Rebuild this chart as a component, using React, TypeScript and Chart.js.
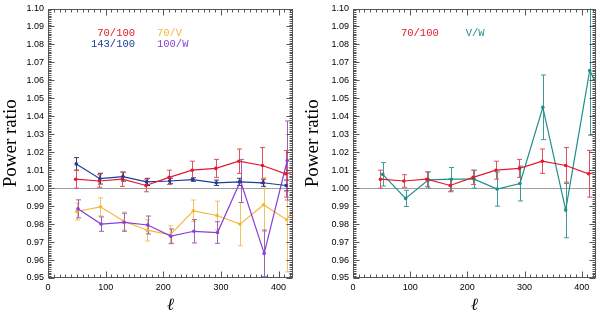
import React, { useEffect, useRef } from "react";
import { Chart, registerables } from "chart.js";
Chart.register(...registerables);

// ---- data ----
const ell70_100 = [48, 89, 129, 170, 210, 250, 291, 331, 372, 412, 452];
const ratio70_100 = [1.005, 1.004, 1.005, 1.0015, 1.006, 1.010, 1.011, 1.015, 1.0126, 1.008, 1.011];
const err70_100 = [0.005, 0.0035, 0.004, 0.0035, 0.004, 0.005, 0.005, 0.0068, 0.010, 0.013, 0.01];

const ell143_100 = [49, 90, 130, 171, 211, 251, 292, 332, 373, 413];
const ratio143_100 = [1.0135, 1.0053, 1.0064, 1.0035, 1.004, 1.0048, 1.003, 1.0035, 1.003, 1.0015];
const err143_100 = [0.0035, 0.003, 0.0025, 0.002, 0.0015, 0.001, 0.0015, 0.002, 0.002, 0.003];

const ell70_V = [50, 91, 131, 172, 212, 252, 293, 333, 374, 414, 454];
const ratio70_V = [0.987, 0.9896, 0.9817, 0.9766, 0.974, 0.9874, 0.9848, 0.980, 0.9908, 0.9824, 1.002];
const err70_V = [0.0047, 0.005, 0.005, 0.006, 0.005, 0.006, 0.008, 0.012, 0.015, 0.029, 0.03];

const ell100_W = [52, 92, 132, 173, 213, 253, 294, 334, 375, 415];
const ratio100_W = [0.9885, 0.980, 0.981, 0.9795, 0.9733, 0.976, 0.9753, 1.004, 0.9637, 1.0154];
const err100_W = [0.005, 0.004, 0.005, 0.005, 0.004, 0.0065, 0.006, 0.012, 0.013, 0.022];

const ellV_W = [52, 92, 132, 172, 212, 252, 292, 332, 372, 414, 454];
const ratioV_W = [1.0077, 0.9943, 1.0046, 1.005, 1.005, 0.9995, 1.0026, 1.045, 0.9879, 1.0655, 1.04];
const errV_W = [0.0065, 0.0045, 0.0045, 0.0065, 0.005, 0.0095, 0.0097, 0.018, 0.0155, 0.036, 0.03];

const yTickValues = [0.95, 0.96, 0.97, 0.98, 0.99, 1.0, 1.01, 1.02, 1.03, 1.04, 1.05, 1.06, 1.07, 1.08, 1.09, 1.1];
const xTickValues = [0, 100, 200, 300, 400];
const X_MIN = 0, X_MAX = 425, Y_MIN = 0.95, Y_MAX = 1.1;

const RED = "#e31a2a", RED_ERR = "#e0505e";
const BLUE = "#1d3c9c", BLUE_ERR = "#3a3d6a";
const YEL = "#f5b73a", YEL_ERR = "#f0c45e";
const PUR = "#8a3fd6", PUR_ERR = "#9d62b0";
const TEAL = "#1f8f8c", TEAL_ERR = "#3f9a98";

type Series = { label: string; ell: number[]; val: number[]; err: number[]; color: string; errColor: string };
type Legend = { text: string; color: string; x: number; y: number; align: CanvasTextAlign };

const leftSeries: Series[] = [
  { label: "70/100", ell: ell70_100, val: ratio70_100, err: err70_100, color: RED, errColor: RED_ERR },
  { label: "143/100", ell: ell143_100, val: ratio143_100, err: err143_100, color: BLUE, errColor: BLUE_ERR },
  { label: "100/W", ell: ell100_W, val: ratio100_W, err: err100_W, color: PUR, errColor: PUR_ERR },
  { label: "70/V", ell: ell70_V, val: ratio70_V, err: err70_V, color: YEL, errColor: YEL_ERR },
];
const rightSeries: Series[] = [
  { label: "70/100", ell: ell70_100, val: ratio70_100, err: err70_100, color: RED, errColor: RED_ERR },
  { label: "V/W", ell: ellV_W, val: ratioV_W, err: errV_W, color: TEAL, errColor: TEAL_ERR },
];
const leftLegend: Legend[] = [
  { text: "70/100", color: RED, x: 151, y: 1.0862, align: "right" },
  { text: "70/V", color: YEL, x: 189, y: 1.0862, align: "left" },
  { text: "143/100", color: BLUE, x: 151, y: 1.0802, align: "right" },
  { text: "100/W", color: PUR, x: 189, y: 1.0802, align: "left" },
];
const rightLegend: Legend[] = [
  { text: "70/100", color: RED, x: 150, y: 1.0862, align: "right" },
  { text: "V/W", color: TEAL, x: 197, y: 1.0862, align: "left" },
];

function makeDecor(series: Series[], legend: Legend[], titleX: number) {
  return {
    id: "decor",
    beforeDatasetsDraw(chart: any) {
      const { ctx, chartArea: a, scales } = chart;
      const x = scales.x, y = scales.y;
      ctx.save();
      ctx.beginPath();
      ctx.rect(a.left, a.top, a.right - a.left, a.bottom - a.top);
      ctx.clip();
      const py = Math.round(y.getPixelForValue(1.0)) + 0.5;
      ctx.strokeStyle = "#a0a0a0";
      ctx.lineWidth = 1;
      ctx.beginPath();
      ctx.moveTo(a.left, py);
      ctx.lineTo(a.right, py);
      ctx.stroke();
      for (let si = series.length - 1; si >= 0; si--) {
        const s = series[si];
        ctx.strokeStyle = s.errColor;
        ctx.lineWidth = 1;
        s.ell.forEach((l, i) => {
          const px = Math.round(x.getPixelForValue(l)) + 0.5;
          const y1 = y.getPixelForValue(s.val[i] + s.err[i]);
          const y2 = y.getPixelForValue(s.val[i] - s.err[i]);
          ctx.beginPath();
          ctx.moveTo(px, y1);
          ctx.lineTo(px, y2);
          ctx.moveTo(px - 2.5, y1);
          ctx.lineTo(px + 2.5, y1);
          ctx.moveTo(px - 2.5, y2);
          ctx.lineTo(px + 2.5, y2);
          ctx.stroke();
        });
      }
      ctx.restore();
    },
    afterDraw(chart: any) {
      const { ctx, chartArea: a, scales } = chart;
      const x = scales.x, y = scales.y;
      ctx.save();
      const L = Math.round(a.left) + 0.5, R = Math.round(a.right) - 0.5;
      const T = Math.round(a.top) + 0.5, B = Math.round(a.bottom) - 0.5;
      ctx.strokeStyle = "#555";
      ctx.lineWidth = 1;
      ctx.strokeRect(L, T, R - L, B - T);
      ctx.beginPath();
      for (let v = X_MIN; v <= X_MAX; v += 10) {
        const px = Math.round(x.getPixelForValue(v)) + 0.5;
        const len = v % 100 === 0 ? 6 : 3;
        ctx.moveTo(px, B); ctx.lineTo(px, B - len);
        ctx.moveTo(px, T); ctx.lineTo(px, T + len);
      }
      for (let k = 950; k <= 1100; k++) {
        const py = Math.round(y.getPixelForValue(k / 1000)) + 0.5;
        const len = k % 10 === 0 ? 6 : 3;
        ctx.moveTo(L, py); ctx.lineTo(L + len, py);
        ctx.moveTo(R, py); ctx.lineTo(R - len, py);
      }
      ctx.stroke();
      // legend texts
      ctx.font = "10.5px 'Liberation Mono', 'DejaVu Sans Mono', monospace";
      ctx.textBaseline = "middle";
      legend.forEach((g) => {
        ctx.fillStyle = g.color;
        ctx.textAlign = g.align;
        ctx.fillText(g.text, x.getPixelForValue(g.x), y.getPixelForValue(g.y));
      });
      // y title
      ctx.fillStyle = "#000";
      ctx.font = "19px 'Liberation Serif', 'DejaVu Serif', serif";
      ctx.textAlign = "center";
      ctx.textBaseline = "alphabetic";
      ctx.save();
      ctx.translate(titleX, (a.top + a.bottom) / 2);
      ctx.rotate(-Math.PI / 2);
      ctx.fillText("Power ratio", 0, 0);
      ctx.restore();
      // x title
      ctx.font = "italic 17px 'DejaVu Serif', 'Liberation Serif', serif";
      ctx.fillText("\u2113", (a.left + a.right) / 2, 310);
      ctx.restore();
    },
  };
}

function buildConfig(series: Series[], legend: Legend[], axisWidth: number, padRight: number, titleX: number): any {
  return {
    type: "line",
    data: {
      datasets: series.map((s) => ({
        label: s.label,
        data: s.ell.map((l, i) => ({ x: l, y: s.val[i] })),
        borderColor: s.color,
        backgroundColor: s.color,
        borderWidth: 1.2,
        pointRadius: 1.8,
        pointBorderWidth: 0,
        tension: 0,
      })),
    },
    options: {
      responsive: false,
      animation: false,
      devicePixelRatio: 1,
      layout: { padding: { left: 0, right: padRight, top: 5, bottom: 0 } },
      plugins: { legend: { display: false }, tooltip: { enabled: false } },
      scales: {
        x: {
          type: "linear",
          min: X_MIN,
          max: X_MAX,
          grid: { display: false, drawTicks: false },
          border: { display: false },
          ticks: { color: "#000", font: { family: "'Liberation Sans', Arial, sans-serif", size: 9, lineHeight: 1 }, padding: 5, maxRotation: 0 },
          afterBuildTicks: (sc: any) => { sc.ticks = xTickValues.map((v) => ({ value: v })); },
          afterFit: (sc: any) => { sc.height = 35; },
        },
        y: {
          type: "linear",
          min: Y_MIN,
          max: Y_MAX,
          grid: { display: false, drawTicks: false },
          border: { display: false },
          ticks: {
            color: "#000",
            font: { family: "'Liberation Sans', Arial, sans-serif", size: 9, lineHeight: 1 },
            padding: 4,
            callback: (v: any) => Number(v).toFixed(2),
          },
          afterBuildTicks: (sc: any) => { sc.ticks = yTickValues.map((v) => ({ value: v })); },
          afterFit: (sc: any) => { sc.width = axisWidth; },
        },
      },
    },
    plugins: [makeDecor(series, legend, titleX)],
  };
}

function Panel(props: { series: Series[]; legend: Legend[]; axisWidth: number; padRight: number; titleX: number; left: number }) {
  const ref = useRef<HTMLCanvasElement>(null);
  useEffect(() => {
    if (!ref.current) return;
    const chart = new Chart(ref.current, buildConfig(props.series, props.legend, props.axisWidth, props.padRight, props.titleX));
    return () => chart.destroy();
  }, []);
  return (
    <div style={{ position: "absolute", left: props.left, top: 0, width: 300, height: 313 }}>
      <canvas ref={ref} width={300} height={313} style={{ width: 300, height: 313, display: "block" }} />
    </div>
  );
}

export default function App() {
  return (
    <div style={{ position: "absolute", left: 0, top: 0, width: 600, height: 313, background: "#fff" }}>
      <Panel series={leftSeries} legend={leftLegend} axisWidth={48} padRight={7} titleX={15.5} left={0} />
      <Panel series={rightSeries} legend={rightLegend} axisWidth={53} padRight={2} titleX={18} left={300} />
    </div>
  );
}
